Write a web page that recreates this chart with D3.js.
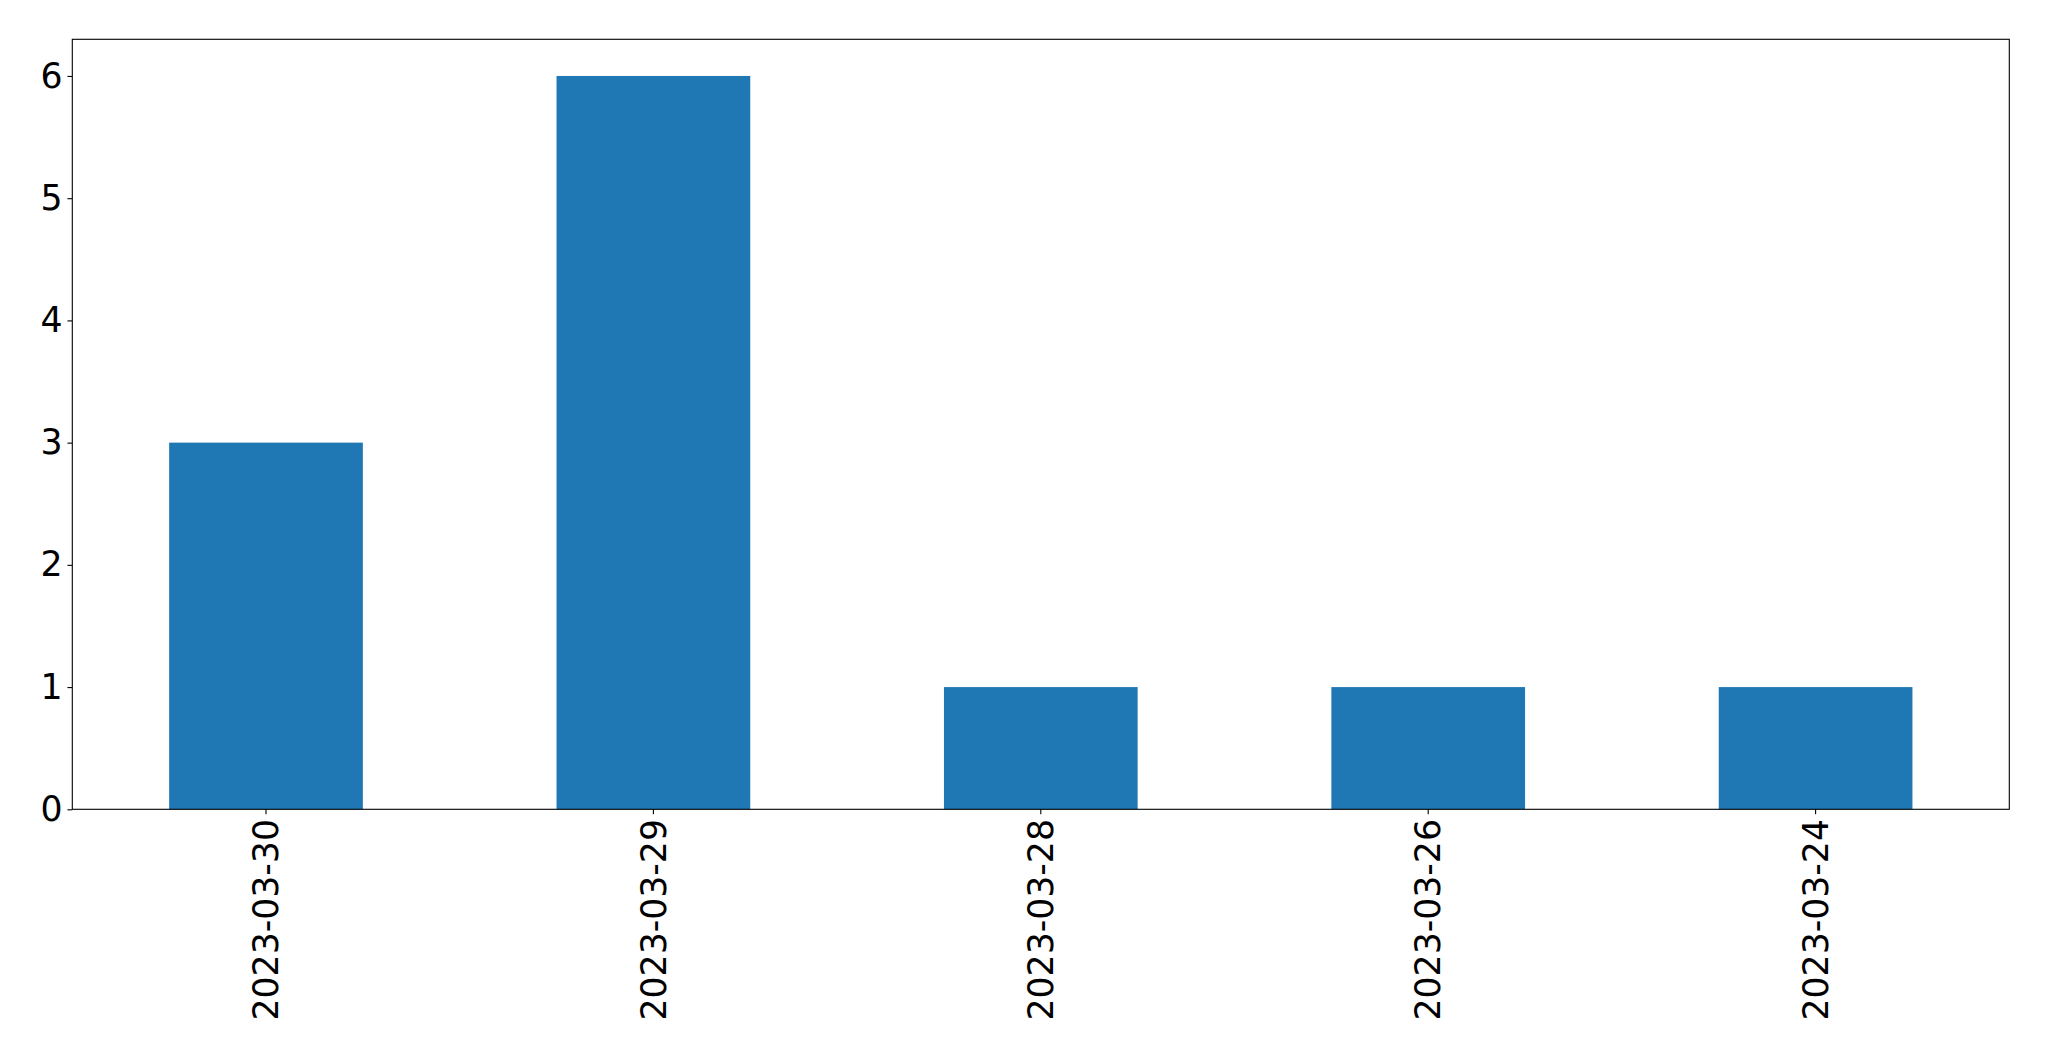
<!DOCTYPE html>
<html><head><meta charset="utf-8">
<script src="https://cdn.jsdelivr.net/npm/d3@7"></script>
<style>body{margin:0;background:#fff}svg{display:block}text{font-family:"DejaVu Sans",sans-serif}</style>
</head><body>
<script>
const categories = ["2023-03-30","2023-03-29","2023-03-28","2023-03-26","2023-03-24"];
const values = [3,6,1,1,1];
const yTicks = [0,1,2,3,4,5,6];

const W=2049,H=1061;
const L=72.3,R=2009.3,T=39.3,B=809.3;
const svg=d3.select("body").append("svg").attr("width",W).attr("height",H);
const x=d3.scaleBand().domain(categories).range([L,R]).paddingInner(0.5).paddingOuter(0.25);
const y=d3.scaleLinear().domain([0,6.3]).range([B,T]);

svg.append("g").selectAll("rect").data(values).join("rect")
  .attr("x",(d,i)=>x(categories[i])).attr("width",x.bandwidth())
  .attr("y",d=>y(d)).attr("height",d=>y(0)-y(d)).attr("fill","#1f77b4");

const fs=34.7;
const ya=svg.append("g").attr("transform",`translate(${L},0)`)
  .call(d3.axisLeft(y).tickValues(yTicks).tickFormat(d3.format("d")).tickSize(4.86).tickPadding(4.86));
ya.select(".domain").remove();
ya.selectAll("line").attr("stroke","#000").attr("stroke-width",1.1);
ya.selectAll("text").attr("font-size",fs).attr("fill","#000").attr("font-family","DejaVu Sans");

const xa=svg.append("g").attr("transform",`translate(0,${B})`)
  .call(d3.axisBottom(x).tickSize(4.86).tickPadding(4.86));
xa.select(".domain").remove();
xa.selectAll("line").attr("stroke","#000").attr("stroke-width",1.1);
xa.selectAll("text").attr("font-size",fs).attr("fill","#000").attr("font-family","DejaVu Sans")
  .attr("transform","rotate(-90)").attr("text-anchor","end").attr("dy","0.35em")
  .attr("x",-9.7).attr("y",0);

svg.append("rect").attr("x",L).attr("y",T).attr("width",R-L).attr("height",B-T)
  .attr("fill","none").attr("stroke","#000").attr("stroke-width",1.1);
</script>
</body></html>
